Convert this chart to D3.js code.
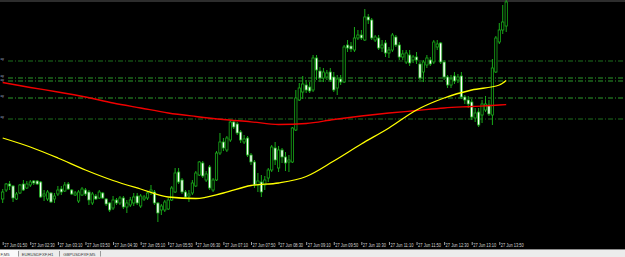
<!DOCTYPE html>
<html>
<head>
<meta charset="utf-8">
<script src="https://cdn.jsdelivr.net/npm/d3@7"></script>
<style>
html, body { margin: 0; padding: 0; background: #000; overflow: hidden; }
svg { display: block; }
</style>
</head>
<body>
<svg id="chart" width="625" height="257"></svg>
<script>
// M5 bars, 27 Jun, from 01:50 (one bar every 5 min)
const opens = [
  98.01, 98.10, 98.16, 98.14, 98.01, 98.07, 98.16, 98.12, 98.15, 98.19,
  98.19, 98.18, 98.04, 98.01, 98.07, 98.01, 98.06, 98.11, 98.09, 98.16,
  98.10, 98.05, 97.99, 98.05, 98.10, 98.08, 97.97, 98.04, 98.02, 98.07,
  98.01, 97.97, 97.92, 98.00, 97.97, 98.02, 97.93, 97.95, 97.97, 98.04,
  97.94, 98.01, 98.02, 98.08, 98.08, 97.97, 97.90, 97.90, 97.91, 98.00,
  98.08, 98.28, 98.20, 98.08, 98.04, 98.07, 98.14, 98.25, 98.37, 98.20,
  98.33, 98.10, 98.20, 98.47, 98.58, 98.50, 98.60, 98.78, 98.76, 98.68,
  98.58, 98.62, 98.45, 98.38, 98.15, 98.18, 98.15, 98.22, 98.30, 98.52,
  98.32, 98.50, 98.43, 98.38, 98.38, 98.70, 99.00, 99.08, 99.15, 99.13,
  99.10, 99.42, 99.29, 99.22, 99.23, 99.28, 99.23, 99.12, 99.21, 99.18,
  99.55, 99.54, 99.50, 99.62, 99.65, 99.60, 99.83, 99.80, 99.60, 99.62,
  99.52, 99.57, 99.47, 99.50, 99.63, 99.55, 99.43, 99.38, 99.45, 99.40,
  99.43, 99.36, 99.28, 99.35, 99.40, 99.38, 99.53, 99.57, 99.38, 99.23,
  99.15, 99.24, 99.20, 99.24, 99.03, 99.00, 98.98, 98.82, 98.88, 98.85,
  98.90, 98.95, 98.85, 99.28, 99.58, 99.70, 99.74
];
const highs = [
  98.11, 98.17, 98.19, 98.15, 98.08, 98.16, 98.20, 98.19, 98.20, 98.20,
  98.20, 98.19, 98.10, 98.10, 98.08, 98.07, 98.14, 98.14, 98.18, 98.18,
  98.11, 98.09, 98.10, 98.13, 98.12, 98.10, 98.08, 98.06, 98.10, 98.08,
  98.02, 97.98, 98.04, 98.02, 98.04, 98.04, 98.00, 98.03, 98.07, 98.07,
  98.06, 98.05, 98.09, 98.15, 98.10, 97.98, 97.96, 98.00, 98.02, 98.14,
  98.32, 98.32, 98.22, 98.10, 98.10, 98.20, 98.29, 98.39, 98.39, 98.29,
  98.35, 98.22, 98.49, 98.67, 98.62, 98.64, 98.80, 98.80, 98.78, 98.70,
  98.65, 98.64, 98.47, 98.40, 98.27, 98.25, 98.24, 98.32, 98.55, 98.58,
  98.54, 98.52, 98.48, 98.45, 98.73, 99.10, 99.17, 99.24, 99.20, 99.18,
  99.45, 99.45, 99.33, 99.32, 99.30, 99.32, 99.28, 99.25, 99.25, 99.55,
  99.60, 99.58, 99.73, 99.70, 99.70, 99.91, 99.86, 99.82, 99.65, 99.65,
  99.60, 99.60, 99.53, 99.67, 99.65, 99.58, 99.50, 99.50, 99.50, 99.45,
  99.48, 99.38, 99.40, 99.45, 99.43, 99.60, 99.60, 99.58, 99.40, 99.25,
  99.25, 99.28, 99.26, 99.28, 99.05, 99.04, 99.01, 98.92, 98.92, 99.00,
  99.04, 99.00, 99.41, 99.64, 99.77, 99.95, 100.00
];
const lows = [
  97.97, 98.08, 98.10, 97.98, 98.00, 98.06, 98.09, 98.11, 98.13, 98.15,
  98.15, 98.02, 97.99, 97.99, 97.97, 97.97, 98.04, 98.05, 98.08, 98.10,
  98.05, 98.04, 97.97, 98.04, 98.04, 97.95, 97.95, 98.00, 98.01, 98.01,
  97.94, 97.88, 97.90, 97.95, 97.95, 97.91, 97.87, 97.93, 97.94, 97.95,
  97.92, 97.99, 98.00, 98.05, 97.95, 97.78, 97.85, 97.88, 97.90, 97.99,
  98.07, 98.16, 98.06, 98.01, 97.98, 98.05, 98.13, 98.24, 98.22, 98.18,
  98.10, 98.08, 98.19, 98.45, 98.49, 98.48, 98.58, 98.71, 98.65, 98.57,
  98.56, 98.43, 98.35, 98.12, 98.08, 98.03, 98.10, 98.18, 98.28, 98.35,
  98.28, 98.37, 98.29, 98.28, 98.37, 98.69, 98.99, 99.01, 99.07, 99.07,
  99.08, 99.20, 99.18, 99.18, 99.20, 99.18, 99.08, 99.05, 99.15, 99.17,
  99.48, 99.48, 99.48, 99.60, 99.60, 99.59, 99.76, 99.60, 99.58, 99.50,
  99.48, 99.43, 99.42, 99.48, 99.53, 99.40, 99.40, 99.36, 99.34, 99.37,
  99.36, 99.20, 99.18, 99.32, 99.34, 99.36, 99.50, 99.36, 99.20, 99.12,
  99.12, 99.16, 99.17, 99.01, 98.96, 98.92, 98.80, 98.78, 98.73, 98.77,
  98.88, 98.84, 98.75, 99.27, 99.56, 99.66, 99.68
];
const closes = [
  98.08, 98.16, 98.14, 98.02, 98.06, 98.15, 98.10, 98.16, 98.18, 98.17,
  98.16, 98.03, 98.06, 98.08, 97.98, 98.04, 98.10, 98.08, 98.15, 98.11,
  98.06, 98.07, 98.08, 98.11, 98.06, 98.00, 98.06, 98.01, 98.08, 98.02,
  97.96, 97.90, 98.00, 97.97, 98.02, 97.93, 97.97, 98.00, 98.03, 97.97,
  98.04, 98.03, 98.07, 98.10, 97.97, 97.87, 97.94, 97.98, 98.00, 98.12,
  98.27, 98.18, 98.08, 98.03, 98.06, 98.17, 98.27, 98.38, 98.24, 98.26,
  98.12, 98.20, 98.47, 98.58, 98.52, 98.62, 98.78, 98.73, 98.67, 98.60,
  98.61, 98.45, 98.38, 98.15, 98.19, 98.08, 98.20, 98.30, 98.53, 98.40,
  98.50, 98.43, 98.37, 98.40, 98.72, 99.02, 99.12, 99.16, 99.10, 99.09,
  99.42, 99.30, 99.22, 99.28, 99.27, 99.20, 99.10, 99.21, 99.18, 99.53,
  99.52, 99.51, 99.62, 99.65, 99.62, 99.83, 99.80, 99.62, 99.63, 99.52,
  99.55, 99.47, 99.50, 99.65, 99.55, 99.43, 99.46, 99.47, 99.37, 99.43,
  99.40, 99.22, 99.38, 99.42, 99.36, 99.58, 99.56, 99.38, 99.23, 99.15,
  99.21, 99.19, 99.23, 99.03, 99.00, 98.96, 98.83, 98.87, 98.75, 98.96,
  98.96, 98.86, 99.32, 99.62, 99.70, 99.78, 99.98
];

// moving averages, read every 8 bars (bar index -> value)
const maBars = [0, 8, 16, 24, 32, 40, 48, 56, 64, 72, 80, 88, 96, 104, 112, 120, 128, 136, 144, 146];
const maYellow = [98.62, 98.53, 98.42, 98.30, 98.195, 98.11, 98.03, 98.015, 98.07, 98.145,
                  98.17, 98.235, 98.39, 98.56, 98.72, 98.90, 99.02, 99.10, 99.15, 99.195];
const maRed = [99.175, 99.125, 99.08, 99.03, 98.97, 98.92, 98.87, 98.835, 98.805, 98.782,
               98.755, 98.765, 98.805, 98.84, 98.87, 98.895, 98.92, 98.935, 98.95, 98.955];

// horizontal levels
const levels = [99.39, 99.22, 99.19, 99.02, 98.81];
const levelLabels = ["ay", "ay", "ay", "ay", "ay"];

const tickLabels = [
  "27 Jun 01:50", "27 Jun 02:30", "27 Jun 03:10", "27 Jun 03:50", "27 Jun 04:30",
  "27 Jun 05:10", "27 Jun 05:50", "27 Jun 06:30", "27 Jun 07:10", "27 Jun 07:50",
  "27 Jun 08:30", "27 Jun 09:10", "27 Jun 09:50", "27 Jun 10:30", "27 Jun 11:10",
  "27 Jun 11:50", "27 Jun 12:30", "27 Jun 13:10", "27 Jun 13:50"
];
const tabs = ["F,M5", "EURUSDFXF,H1", "GBPUSDFXF,M5"];

const W = 625, plotBottom = 242;
const green = "#19ab19";

const parse = d3.timeParse("%d %b %H:%M");
const fmt = d3.timeFormat("%d %b %H:%M");
const tickDates = tickLabels.map(parse);
const start = tickDates[0];
const barTime = i => d3.timeMinute.offset(start, 5 * i);

const x = d3.scaleTime()
  .domain([tickDates[0], tickDates[tickDates.length - 1]])
  .range([2.7, 499.3]);
const y = d3.scaleLinear().domain([97.58, 100]).range([plotBottom, 0]);

const bars = opens.map((o, i) => ({ t: barTime(i), o: o, h: highs[i], l: lows[i], c: closes[i] }));

const svg = d3.select("#chart");
svg.append("rect").attr("width", W).attr("height", 257).attr("fill", "#000");

// top border
svg.append("line").attr("x1", 0).attr("x2", W).attr("y1", 1).attr("y2", 1)
  .attr("stroke", "#5a5a5a").attr("stroke-width", 1);

// level lines
const lv = svg.append("g");
levels.forEach((p, i) => {
  const dim = (i === 0 || i === levels.length - 1);
  lv.append("line")
    .attr("x1", 8).attr("x2", W)
    .attr("y1", y(p)).attr("y2", y(p))
    .attr("stroke", dim ? "#1d6e1d" : "#2a9a2a")
    .attr("stroke-width", 1)
    .attr("stroke-dasharray", "5,2,1,2");
  // the two close levels share the space: the lower one sits on its line
  const dy = (i === 2) ? 0.2 : -1.3;
  lv.append("text")
    .attr("x", 0.5).attr("y", y(p) + dy)
    .attr("fill", "#a4b4c8")
    .attr("font-family", "Liberation Sans, Arial, sans-serif")
    .attr("font-size", 3.2)
    .text(levelLabels[i]);
});

// candles
const bodyW = 2.3;
const cg = svg.append("g").selectAll("g").data(bars).join("g");
cg.append("line")
  .attr("x1", d => x(d.t)).attr("x2", d => x(d.t))
  .attr("y1", d => y(d.h)).attr("y2", d => y(d.l))
  .attr("stroke", green).attr("stroke-width", 1);
cg.append("rect")
  .attr("x", d => x(d.t) - bodyW / 2)
  .attr("y", d => y(Math.max(d.o, d.c)))
  .attr("width", bodyW)
  .attr("height", d => Math.max(0.6, Math.abs(y(d.o) - y(d.c))))
  .attr("fill", d => d.c >= d.o ? "#000" : "#fff")
  .attr("stroke", green).attr("stroke-width", 0.8);

// moving averages
const maLine = vals => d3.line()
  .x((d, i) => x(barTime(maBars[i])))
  .y(d => y(d))
  .curve(d3.curveMonotoneX)(vals);
svg.append("path").attr("d", maLine(maRed))
  .attr("fill", "none").attr("stroke", "#f00000").attr("stroke-width", 1.3);
svg.append("path").attr("d", maLine(maYellow))
  .attr("fill", "none").attr("stroke", "#ffff00").attr("stroke-width", 1.3);

// time axis
const ax = svg.append("g").attr("transform", `translate(0,${plotBottom})`)
  .call(d3.axisBottom(x).tickValues(tickDates).tickFormat(fmt).tickSize(3));
ax.select(".domain").remove();
ax.selectAll(".tick line").attr("stroke", "#c8c8c8").attr("stroke-width", 0.8);
ax.selectAll(".tick text")
  .attr("text-anchor", "start")
  .attr("x", 1).attr("y", 5.2).attr("dy", 0)
  .attr("fill", "#d4d4d4")
  .attr("font-family", "Liberation Sans, Arial, sans-serif")
  .attr("font-size", 4.5)
  .attr("textLength", 23)
  .attr("lengthAdjust", "spacingAndGlyphs");

svg.append("line").attr("x1", 0).attr("x2", W).attr("y1", 249.5).attr("y2", 249.5)
  .attr("stroke", "#8c8c8c").attr("stroke-width", 1);

// tab bar
svg.append("rect").attr("x", 0).attr("y", 250).attr("width", W).attr("height", 7).attr("fill", "#ececec");
svg.append("rect").attr("x", 0).attr("y", 250).attr("width", 18).attr("height", 7).attr("fill", "#fafafa");
const tabX = [0.5, 21.7, 63.3];
const sepX = [18.5, 59.5, 100.5];
tabs.forEach((t, i) => {
  svg.append("text").attr("x", tabX[i]).attr("y", 255.6)
    .attr("fill", "#3a3a3a")
    .attr("font-family", "Liberation Sans, Arial, sans-serif")
    .attr("font-size", 4.2)
    .text(t);
  svg.append("line").attr("x1", sepX[i]).attr("x2", sepX[i]).attr("y1", 251).attr("y2", 256.5)
    .attr("stroke", "#9a9a9a").attr("stroke-width", 1);
});
</script>
</body>
</html>
